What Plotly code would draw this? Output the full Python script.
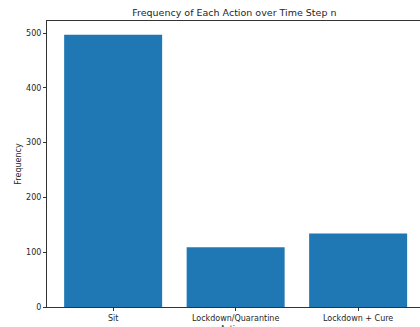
import plotly.graph_objects as go

categories = ["Sit", "Lockdown/Quarantine", "Lockdown + Cure"]
frequencies = [497, 109, 134]

title_text = "Frequency of Each Action over Time Step n"
x_label = "Actions"
y_label = "Frequency"

font_family = "DejaVu Sans"
text_color = "#262626"

fig = go.Figure(
    go.Bar(
        x=list(range(len(categories))),
        y=frequencies,
        width=0.8,
        marker=dict(color="#1f77b4", line=dict(width=0)),
    )
)

fig.update_layout(
    width=420,
    height=327,
    margin=dict(l=47, r=0, t=21, b=20, autoexpand=False),
    paper_bgcolor="white",
    plot_bgcolor="white",
    showlegend=False,
    font=dict(family=font_family, size=8, color=text_color),
    title=dict(
        text=title_text,
        x=0.558,
        xanchor="center",
        y=1 - 13 / 327,
        yanchor="middle",
        font=dict(family=font_family, size=9.5, color=text_color),
    ),
    annotations=[
        dict(
            text=x_label,
            xref="paper",
            yref="paper",
            x=0.504,
            y=-22 / 286,
            xanchor="center",
            yanchor="middle",
            showarrow=False,
            font=dict(family=font_family, size=8, color=text_color),
        )
    ],
)

fig.update_xaxes(
    range=[-0.54, 2.505],
    tickmode="array",
    tickvals=list(range(len(categories))),
    ticktext=categories,
    showgrid=False,
    zeroline=False,
    showline=True,
    linecolor="#333333",
    linewidth=1,
    mirror=True,
    ticks="outside",
    ticklen=3,
    tickcolor="#333333",
    tickfont=dict(size=8, color=text_color),
    automargin=False,
)

fig.update_yaxes(
    range=[0, 522],
    tickmode="array",
    tickvals=[0, 100, 200, 300, 400, 500],
    showgrid=False,
    zeroline=False,
    showline=True,
    linecolor="#333333",
    linewidth=1,
    ticks="outside",
    ticklen=3,
    tickcolor="#333333",
    tickfont=dict(size=8, color=text_color),
    title=dict(text=y_label, standoff=3, font=dict(size=8, color=text_color)),
    automargin=True,
)

fig.write_html(
    "out.html",
    config={"displayModeBar": False},
    post_script="document.body.style.margin='0';document.documentElement.style.overflow='hidden';document.body.style.overflow='hidden';",
)
